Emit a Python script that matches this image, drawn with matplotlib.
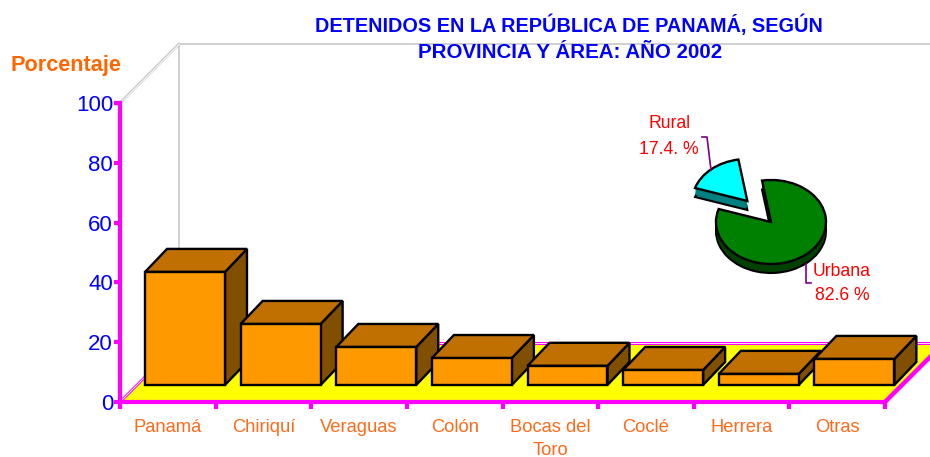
import matplotlib
matplotlib.use("Agg")
import matplotlib.pyplot as plt
from matplotlib.patches import Polygon

plt.rcParams['font.family'] = ['Liberation Sans', 'DejaVu Sans']

W, H = 930, 457

# data
categories = ['Panamá', 'Chiriquí', 'Veraguas', 'Colón', 'Bocas del\nToro', 'Coclé', 'Herrera', 'Otras']
values = [37.8, 20.4, 12.7, 9.0, 6.4, 5.0, 3.7, 8.7]
yticks = [0, 20, 40, 60, 80, 100]
area_labels = ['Urbana', 'Rural']
area_values = [82.6, 17.4]

title_lines = ['DETENIDOS EN LA REPÚBLICA DE PANAMÁ, SEGÚN', 'PROVINCIA Y ÁREA: AÑO 2002']

MAGENTA = '#FF00FF'
ORANGE_TXT = '#FF6A1A'
BLUE = '#0000FF'
GRAY = '#C8C8C8'


def fx(px):
    return px / W


def fy(py):
    return 1 - py / H


fig = plt.figure(figsize=(W / 100, H / 100), dpi=100, facecolor='white')

# ── main axes: x in category slots, y in percent ──
ax = fig.add_axes([fx(120), fy(402), fx(885) - fx(120), fy(103) - fy(402)])
ax.set_xlim(0, len(categories))
ax.set_ylim(0, 100)
ax.patch.set_visible(False)

# 3D offsets in data units
floor_dx, floor_dy = 0.617, 19.7
bar_dx, bar_dy = 0.23, 7.7
bar_shift_x, bar_shift_y = 0.18, 5.7
bar_w = 0.836


def poly(pts, color, z, ec='none', lw=0):
    ax.add_patch(Polygon(pts, closed=True, facecolor=color, edgecolor=ec, linewidth=lw,
                         zorder=z, clip_on=False, joinstyle='miter'))


n = len(categories)

# back wall and floor
ax.plot([floor_dx, floor_dx], [floor_dy, 100 + floor_dy], color=GRAY, lw=1.2, zorder=1, clip_on=False)
ax.plot([floor_dx, n + floor_dx], [100 + floor_dy] * 2, color=GRAY, lw=1.2, zorder=1, clip_on=False)
ax.plot([0, floor_dx], [100, 100 + floor_dy], color=GRAY, lw=2, zorder=1, clip_on=False)
ax.plot([0.005, floor_dx + 0.005], [100, 100 + floor_dy], color='white', lw=0.6, zorder=1, clip_on=False)

poly([(0, 0), (n, 0), (n + floor_dx, floor_dy), (floor_dx, floor_dy)], '#FFFF00', 2)
ax.plot([0, floor_dx], [0, floor_dy], color=MAGENTA, lw=2, zorder=2.5, clip_on=False)
ax.plot([0, floor_dx], [0, floor_dy], color='white', lw=0.6, zorder=2.6, clip_on=False)
ax.plot([floor_dx, n + floor_dx], [floor_dy, floor_dy], color=MAGENTA, lw=2.2, zorder=2.5, clip_on=False)
ax.plot([floor_dx, n + floor_dx], [floor_dy, floor_dy], color='white', lw=0.6, zorder=2.6, clip_on=False)
ax.plot([n, n + floor_dx], [0, floor_dy], color=MAGENTA, lw=3.2, zorder=2.7, clip_on=False)

# bars, left to right so each one covers the side of the one before
for i, v in enumerate(values):
    x0 = i + 0.5 - bar_w / 2 + bar_shift_x
    x1 = x0 + bar_w
    y0 = bar_shift_y
    y1 = y0 + v
    z = 3 + i
    poly([(x1, y0), (x1 + bar_dx, y0 + bar_dy), (x1 + bar_dx, y1 + bar_dy), (x1, y1)], '#805000', z, 'black', 1.7)
    poly([(x0, y1), (x1, y1), (x1 + bar_dx, y1 + bar_dy), (x0 + bar_dx, y1 + bar_dy)], '#C07000', z, 'black', 1.7)
    poly([(x0, y0), (x1, y0), (x1, y1), (x0, y1)], '#FF9900', z, 'black', 1.7)

# axes dressing
for s in ('top', 'right'):
    ax.spines[s].set_visible(False)
for s in ('left', 'bottom'):
    ax.spines[s].set_color(MAGENTA)
    ax.spines[s].set_linewidth(3)
    ax.spines[s].set_zorder(20)
ax.set_yticks(yticks)
ax.tick_params(axis='y', colors=MAGENTA, length=4, width=3, labelsize=16, labelcolor=BLUE, pad=1)
ax.set_xticks(range(n + 1))
ax.set_xticklabels([])
ax.set_xticks([i + 0.5 for i in range(n)], minor=True)
ax.set_xticklabels(categories, minor=True, color=ORANGE_TXT, fontsize=13.2, linespacing=1.5, va='top')
ax.tick_params(axis='x', which='major', colors=MAGENTA, length=5, width=3)
ax.tick_params(axis='x', which='minor', length=0, pad=12)

# titles
fig.text(fx(569), fy(25), title_lines[0], color=BLUE, fontsize=14.3, fontweight='bold', ha='center', va='center')
fig.text(fx(570), fy(53), title_lines[1], color=BLUE, fontsize=14.8, fontweight='bold', ha='center', va='center')
fig.text(fx(10), fy(65), 'Porcentaje', color='#FF6600', fontsize=15.6, fontweight='bold', ha='left', va='center')

# ── pie inset: unit radius, squashed by the axes box ──
cx, cy, rx, ry = 771, 222, 55, 42
left_u, right_u, top_u, bot_u = 1.6, 1.2, 1.7, 1.4
pie_ax = fig.add_axes([fx(cx - left_u * rx), fy(cy + bot_u * ry),
                       (left_u + right_u) * rx / W, (top_u + bot_u) * ry / H])
pie_ax.patch.set_visible(False)
explode = [0, 0.66]
depth = 9 / ry


def draw_pie(offset, colors, ec, lw):
    pie_ax.pie(area_values, explode=explode, startangle=162, colors=colors, center=(0, -offset),
               wedgeprops={'edgecolor': ec, 'linewidth': lw})


draw_pie(depth, ['#004000', '#008080'], 'black', 1.5)
for k in (0.75, 0.5, 0.25):
    draw_pie(depth * k, ['#004000', '#008080'], 'none', 0)
draw_pie(0, ['#008000', '#00FFFF'], 'black', 1.7)
pie_ax.set_aspect('auto')
pie_ax.set_xlim(-left_u, right_u)
pie_ax.set_ylim(-bot_u, top_u)
pie_ax.axis('off')

# leader lines and labels
fig.add_artist(plt.Line2D([fx(711), fx(707), fx(702)], [fy(170), fy(137), fy(137)], color='#800080', lw=1.2))
fig.add_artist(plt.Line2D([fx(806), fx(806), fx(811)], [fy(264), fy(283), fy(283)], color='#800080', lw=1.2))
fig.text(fx(669), fy(124), area_labels[1], color='#FF0000', fontsize=12.7, ha='center', va='center')
fig.text(fx(669), fy(149), f'{area_values[1]}. %', color='#FF0000', fontsize=12.7, ha='center', va='center')
fig.text(fx(842), fy(272), area_labels[0], color='#FF0000', fontsize=12.7, ha='center', va='center')
fig.text(fx(842), fy(296), f'{area_values[0]} %', color='#FF0000', fontsize=12.7, ha='center', va='center')

fig.savefig('out.png', dpi=100)
